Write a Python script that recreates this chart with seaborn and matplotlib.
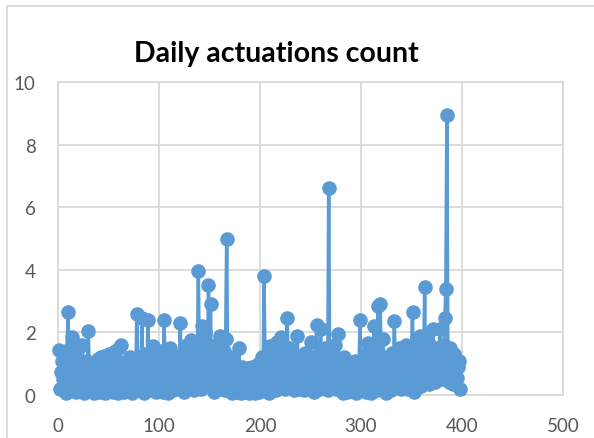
import matplotlib
matplotlib.use("Agg")
import matplotlib.pyplot as plt
from matplotlib.patches import Rectangle
import seaborn as sns
import numpy as np
import pandas as pd

# daily actuation counts (day 1 .. 398)
counts = [
    1.45, 0.2, 0.75, 1.1, 0.5, 0.9, 0.3, 0.05, 1.3, 2.65, 0.6, 1.5, 0.4, 1.85, 0.2, 1.2, 0.8, 0.1, 1.4, 0.55,
    0.3, 0.9, 0.15, 1.6, 0.6, 0.05, 0.85, 0.4, 1.1, 2.05, 0.7, 0.2, 1.0, 0.35, 0.8, 0.05, 0.6, 0.95, 0.25, 1.15,
    0.5, 0.1, 1.2, 0.7, 0.3, 1.25, 0.05, 0.9, 0.45, 1.3, 0.2, 0.75, 1.0, 0.1, 0.6, 1.4, 0.3, 0.85, 0.05, 1.5,
    0.4, 1.6, 0.2, 0.7, 0.1, 1.05, 0.55, 0.3, 0.9, 0.15, 1.2, 0.6, 0.05, 0.8, 0.35, 1.0, 0.45, 2.6, 0.7, 0.2,
    1.1, 0.4, 2.45, 0.9, 0.05, 1.3, 0.6, 0.3, 2.4, 0.8, 0.15, 1.0, 0.5, 1.55, 0.25, 0.7, 0.1, 1.2, 0.45, 0.9,
    0.3, 1.4, 0.6, 0.1, 2.4, 0.85, 0.2, 1.1, 0.05, 0.7, 1.5, 0.4, 0.9, 0.15, 1.25, 0.55, 0.3, 1.0, 0.65, 0.2,
    2.3, 0.8, 0.35, 1.3, 0.1, 0.9, 0.5, 1.6, 0.25, 1.1, 0.7, 1.75, 0.3, 0.95, 0.15, 1.4, 0.6, 1.2, 3.95, 0.4,
    1.0, 0.2, 2.2, 1.5, 0.6, 2.0, 0.3, 1.1, 3.5, 0.8, 2.9, 0.45, 1.3, 0.1, 0.9, 1.6, 0.35, 1.2, 0.6, 1.9,
    0.2, 1.0, 0.5, 1.4, 0.15, 1.8, 5.0, 0.7, 1.2, 0.3, 0.9, 0.05, 1.1, 0.4, 0.6, 0.1, 0.8, 0.25, 1.5, 0.5,
    0.05, 0.9, 0.3, 0.7, 0.1, 0.55, 0.2, 0.85, 0.05, 0.6, 0.35, 0.9, 0.15, 0.5, 0.05, 0.75, 0.3, 1.0, 0.1, 0.6,
    0.4, 1.2, 0.2, 3.8, 0.9, 0.3, 1.1, 0.6, 0.05, 1.55, 0.7, 0.25, 1.3, 0.5, 0.9, 0.15, 1.7, 0.6, 1.0, 0.3,
    1.85, 0.8, 0.4, 1.3, 0.2, 1.1, 2.45, 0.6, 1.5, 0.25, 1.0, 0.35, 1.2, 0.15, 0.8, 0.5, 1.9, 0.3, 0.7, 0.2,
    1.1, 0.45, 0.9, 0.15, 1.35, 0.6, 0.2, 1.0, 0.4, 1.7, 0.3, 0.8, 0.1, 1.25, 0.55, 2.25, 0.35, 1.0, 0.2, 2.1,
    0.6, 1.2, 0.25, 1.5, 0.4, 0.9, 0.15, 6.6, 0.7, 1.3, 0.3, 1.0, 0.5, 1.6, 0.2, 0.8, 1.95, 0.4, 1.1, 0.25,
    0.7, 0.05, 1.2, 0.4, 0.9, 0.1, 0.6, 1.0, 0.25, 0.75, 0.15, 0.9, 0.4, 1.1, 0.05, 0.6, 0.3, 0.85, 2.4, 0.5,
    1.0, 0.2, 0.7, 1.3, 0.1, 0.8, 1.65, 0.35, 1.1, 0.05, 0.6, 0.9, 2.2, 0.3, 1.4, 0.15, 2.85, 0.5, 2.9, 1.0,
    0.4, 1.8, 0.2, 0.9, 0.05, 1.2, 0.6, 0.3, 1.0, 0.15, 1.35, 0.5, 2.35, 0.8, 0.25, 1.1, 0.4, 1.5, 0.7, 0.2,
    1.3, 0.55, 1.0, 0.3, 1.6, 0.9, 0.2, 1.2, 0.5, 1.45, 2.65, 0.1, 0.8, 1.7, 0.4, 1.0, 0.6, 1.9, 0.3, 1.1,
    1.5, 0.8, 3.45, 0.5, 1.85, 1.1, 0.35, 1.6, 0.7, 1.3, 2.1, 0.9, 0.4, 1.2, 0.6, 1.5, 1.0, 2.1, 0.5, 1.3,
    0.7, 1.6, 2.45, 3.4, 8.95, 1.2, 0.4, 1.5, 0.8, 1.0, 0.35, 1.3, 0.6, 1.1, 0.55, 0.9, 1.1, 0.2,
]
days = list(range(1, len(counts) + 1))

x_ticks = [0, 100, 200, 300, 400, 500]
y_ticks = [0, 2, 4, 6, 8, 10]

blue = "#5B9BD5"
grid_gray = "#D9D9D9"
label_gray = "#595959"

df = pd.DataFrame({"day": days, "count": counts})

sns.set_style("white")
plt.rcParams["font.family"] = ["Lato", "DejaVu Sans"]

fig = plt.figure(figsize=(5.94, 4.39), dpi=100)
ax = fig.add_axes([58 / 594, 1 - 396 / 439, (563 - 58) / 594, (396 - 83) / 439])

sns.lineplot(data=df, x="day", y="count", ax=ax, color=blue, linewidth=2.5,
             marker="o", markersize=10.5, markeredgewidth=0, sort=False,
             estimator=None, clip_on=False, zorder=3)

ax.set_xlim(0, 500)
ax.set_ylim(0, 10)
ax.set_xticks(x_ticks)
ax.set_yticks(y_ticks)
ax.set_xlabel("")
ax.set_ylabel("")
ax.grid(True, color=grid_gray, linewidth=1.3)
ax.set_axisbelow(True)
for sp in ax.spines.values():
    sp.set_color(grid_gray)
    sp.set_linewidth(1.3)
ax.tick_params(axis="both", length=0, labelsize=13.5, labelcolor=label_gray)
ax.tick_params(axis="y", pad=16)
ax.tick_params(axis="x", pad=16)

fig.text(276 / 594, 1 - 54 / 439, "Daily actuations count", ha="center", va="center",
         fontsize=20.5, fontweight="bold", color="black")

# chart area border
fig.patches.append(Rectangle((7 / 594, -0.1), 1.2, 1 - 7 / 439 + 0.1,
                             transform=fig.transFigure, fill=False,
                             edgecolor=grid_gray, linewidth=1.3))

fig.savefig("out.png", dpi=100)
